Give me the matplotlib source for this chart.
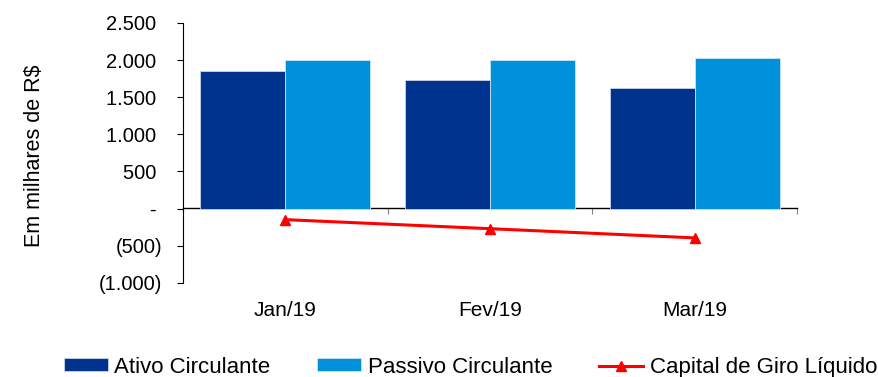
import matplotlib.pyplot as plt
import numpy as np

# dados (milhares de R$)
meses = ['Jan/19', 'Fev/19', 'Mar/19']
ativo_circulante = [1858, 1736, 1626]
passivo_circulante = [2008, 2008, 2022]
capital_giro = [-150, -272, -396]

yticks = [-1000, -500, 0, 500, 1000, 1500, 2000, 2500]
ytick_labels = ['(1.000)', '(500)', '- ', '500 ', '1.000 ', '1.500 ', '2.000 ', '2.500 ']

plt.rcParams['font.family'] = ['Liberation Sans', 'DejaVu Sans']

AZUL_ESCURO = '#00338D'
AZUL_CLARO = '#0091DA'
VERMELHO = '#FF0000'

fig = plt.figure(figsize=(8.79, 3.77), dpi=100)
ax = fig.add_axes([183 / 879, 1 - 282.7 / 377, (797 - 183) / 879, (282.7 - 23) / 377])

x = np.arange(len(meses))
w = 0.415
b1 = ax.bar(x - w / 2, ativo_circulante, width=w, color=AZUL_ESCURO, edgecolor='#c8d4e8',
            linewidth=0.6, label='Ativo Circulante')
b2 = ax.bar(x + w / 2, passivo_circulante, width=w, color=AZUL_CLARO, edgecolor='#c8e4f6',
            linewidth=0.6, label='Passivo Circulante')
ln, = ax.plot(x, capital_giro, color=VERMELHO, linewidth=2.2, marker='^', markersize=7,
              label='Capital de Giro Líquido')

ax.set_xlim(-0.5, len(meses) - 0.5)
ax.set_ylim(-1000, 2500)
ax.set_yticks(yticks)
ax.set_yticklabels(ytick_labels)
ax.tick_params(axis='y', length=4, width=0.8, pad=11, labelsize=14.5)
ax.set_ylabel('Em milhares de R$', fontsize=15.5)
ax.yaxis.set_label_coords(-0.225, 0.49)

for s in ['top', 'right', 'bottom']:
    ax.spines[s].set_visible(False)
ax.spines['left'].set_linewidth(0.8)

# rótulos das categorias embaixo
ax.set_xticks(x)
ax.set_xticklabels(meses)
ax.tick_params(axis='x', length=0, labelsize=15, pad=13)

# eixo zero com marcas entre as categorias
zero_pos = (0 - (-1000)) / 3500
sec = ax.secondary_xaxis(zero_pos)
sec.set_xticks(np.arange(-0.5, len(meses), 1.0))
sec.set_xticklabels([])
sec.tick_params(axis='x', direction='out', length=4, width=0.8, color='#808080')
sec.spines['bottom'].set_linewidth(1.0)

fig.legend([b1, b2, ln], [b1.get_label(), b2.get_label(), ln.get_label()],
           loc='center', bbox_to_anchor=(0.535, 0.026), ncol=3,
           frameon=False, fontsize=16, handlelength=2.0, handleheight=0.5,
           handletextpad=0.28, columnspacing=2.1)

fig.savefig('out.png', dpi=100)
